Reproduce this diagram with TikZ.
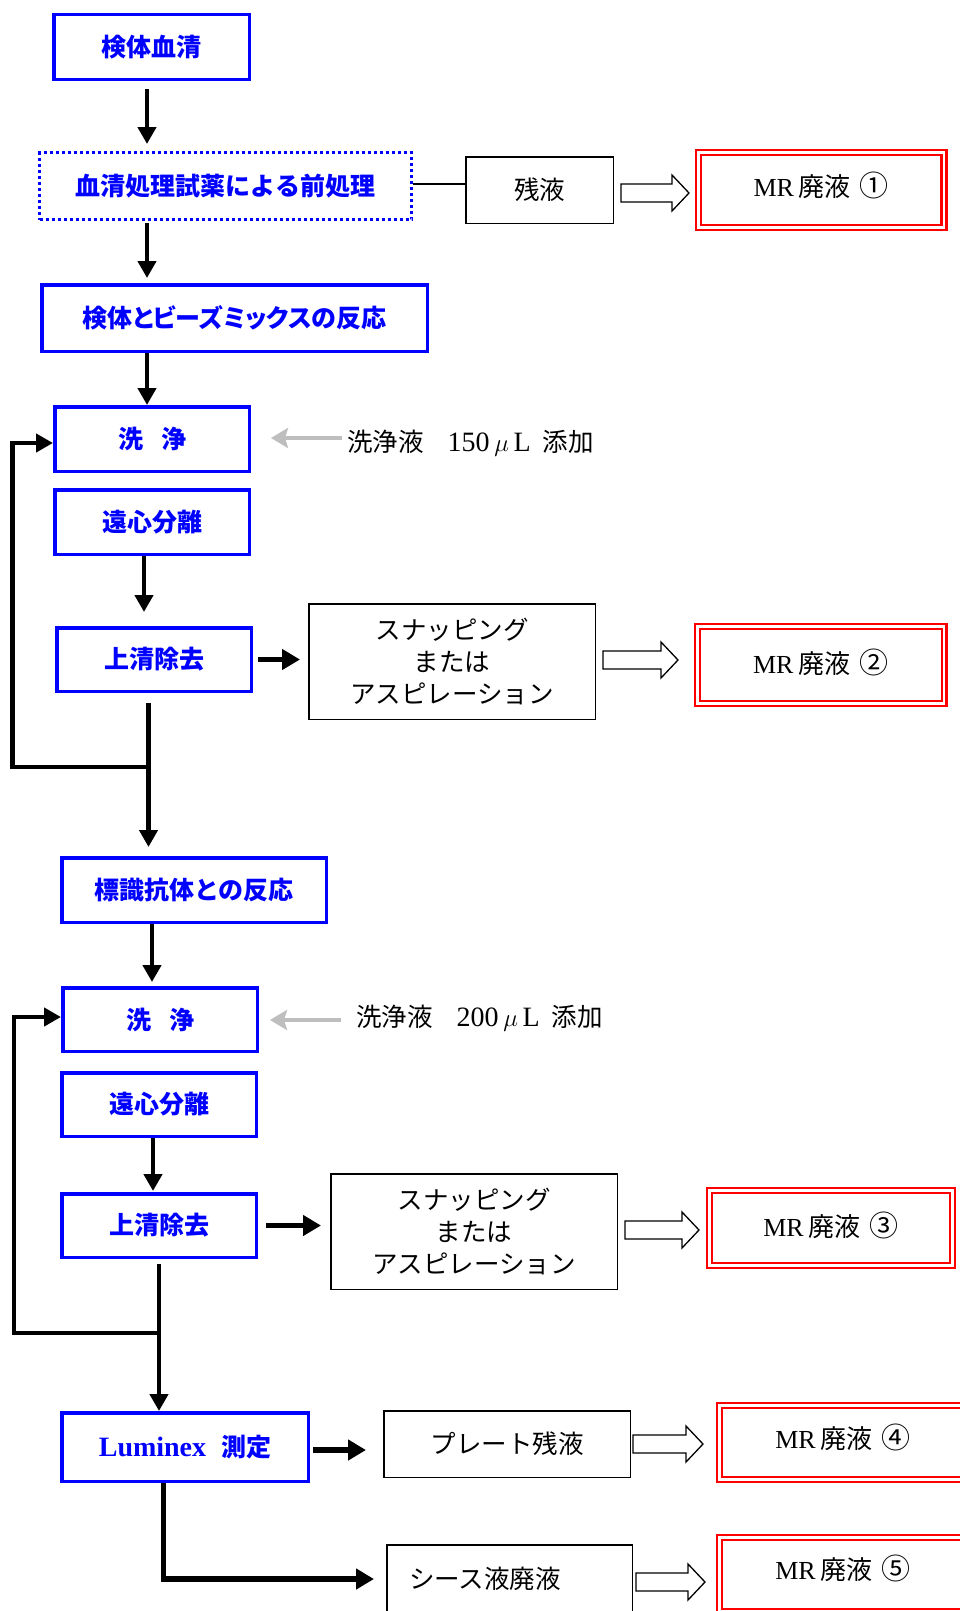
\documentclass[tikz,border=0pt]{standalone}
\usepackage{fontspec}
\newfontfamily\cjk{Noto Sans CJK JP}
\newfontfamily\cjkp[RawFeature=+palt]{Noto Sans CJK JP}
\newfontfamily\lat{Liberation Serif}
\usetikzlibrary{arrows.meta,calc}
\definecolor{lg}{RGB}{190,190,190}
\definecolor{bl}{RGB}{0,0,255}
\definecolor{rd}{RGB}{255,0,0}
\newcommand\hollowarr[3]{%
  \draw[hollow] (#1,#3-9) -- (#2-17,#3-9) -- (#2-17,#3-18) -- (#2,#3) -- (#2-17,#3+18) -- (#2-17,#3+9) -- (#1,#3+9) -- cycle;}
\newcommand\mrlab[1]{{\lat MR}\hspace{5pt}{\cjk 廃液}\hspace{9pt}{\fontsize{29}{30}\selectfont\cjk #1}}
\newcommand\washlab[1]{{\cjk 洗浄液}\hspace{24pt}{\fontsize{28}{30}\selectfont\lat #1\,$\mu$\,L}\hspace{12pt}{\cjk 添加}}
\begin{document}
\begin{tikzpicture}[x=1pt,y=-1pt,
  bbox/.style={draw=bl, line width=3.5pt, inner sep=0pt, text=bl, font=\fontsize{25}{30}\selectfont\cjk\bfseries},
  wbox/.style={draw=black, line width=1.5pt, inner sep=0pt, align=center, font=\fontsize{25.5}{31.7}\selectfont\cjk},
  mrbox/.style={draw=rd, double=white, double distance=2.5pt, line width=2.3pt, inner sep=0pt},
  mrtext/.style={font=\fontsize{26}{30}\selectfont, inner sep=0pt},
  arr/.style={line width=4.5pt, -{Triangle[width=18pt,length=17pt]}},
  harr/.style={line width=5.5pt, -{Triangle[width=20pt,length=18pt]}},
  garr/.style={draw=lg, line width=4pt, -{Stealth[width=20pt,length=17pt,inset=3pt]}},
  hollow/.style={draw=black, fill=white, line width=1.3pt, line join=miter},
  gtext/.style={anchor=west, inner sep=0pt, font=\fontsize{25.5}{30}\selectfont},
]
\useasboundingbox (0,0) rectangle (960,1611);
\clip (0,0) rectangle (960,1611);

% column / row helper coordinates
\coordinate (cA) at (147,0);
\coordinate (cB) at (144,0);
\coordinate (cC) at (148.5,0);
\coordinate (cD) at (152,0);
\coordinate (cE) at (153,0);
\coordinate (cF) at (159,0);
\coordinate (cG) at (163.5,0);
\coordinate (cL1) at (12.6,0);
\coordinate (cL2) at (14,0);
\coordinate (rL1) at (0,767);
\coordinate (rL2) at (0,1333);

% blue process boxes
\node[bbox, minimum width=195.5pt, minimum height=64.5pt] (sample) at (151.5,47) {検体血清};
\node[bbox, line width=3pt, dash pattern=on 3pt off 3pt, minimum width=372pt, minimum height=67pt] (pre) at (225.5,186) {血清処理試薬による前処理};
\node[bbox, minimum width=385.5pt, minimum height=66.5pt] (react1) at (234.5,318) {\cjkp\bfseries 検体とビーズミックスの反応};
\node[bbox, minimum width=194.5pt, minimum height=64.5pt] (wash1) at (152,439) {洗\hspace{18pt}浄};
\node[bbox, minimum width=194.5pt, minimum height=64.5pt] (cent1) at (152,522) {遠心分離};
\node[bbox, minimum width=194.5pt, minimum height=63.5pt] (sup1) at (154,659.5) {上清除去};
\node[bbox, minimum width=264.5pt, minimum height=64.5pt] (label) at (194,890) {標識抗体との反応};
\node[bbox, minimum width=194.5pt, minimum height=63.5pt] (wash2) at (160,1019.5) {洗\hspace{18pt}浄};
\node[bbox, minimum width=194.5pt, minimum height=63.5pt] (cent2) at (159,1104.5) {遠心分離};
\node[bbox, minimum width=194.5pt, minimum height=63.5pt] (sup2) at (159,1225.5) {上清除去};
\node[bbox, minimum width=246.5pt, minimum height=68.5pt] (lumi) at (185,1447) {{\fontsize{28}{30}\selectfont\lat\bfseries Luminex}\hspace{15pt}測定};

% black boxes
\node[wbox, minimum width=147.5pt, minimum height=66.5pt] (res) at (539.5,190) {残液};
\node[wbox, minimum width=286.5pt, minimum height=115.5pt] (snap1) at (452,661.5) {スナッピング\\または\\アスピレーション};
\node[wbox, minimum width=286.5pt, minimum height=115.5pt] (snap2) at (474,1231.5) {スナッピング\\または\\アスピレーション};
\node[wbox, minimum width=246.5pt, minimum height=66.5pt] (plate) at (507,1444) {プレート残液};
\node[wbox, minimum width=245.5pt, minimum height=68.5pt, text width=201pt, align=left] (sheath) at (509.5,1579) {シース液廃液};

% red double boxes
\node[mrbox, minimum width=245.4pt, minimum height=74.9pt,
  label={[mrtext, yshift=5pt]center:{\mrlab{①}}}] (mr1) at (821.25,190) {};
\node[mrbox, minimum width=246.6pt, minimum height=76.9pt,
  label={[mrtext, yshift=3pt]center:{\mrlab{②}}}] (mr2) at (820.85,665) {};
\node[mrbox, minimum width=242.9pt, minimum height=74.9pt,
  label={[mrtext, yshift=3pt]center:{\mrlab{③}}}] (mr3) at (831,1228) {};
\node[mrbox, minimum width=246.9pt, minimum height=73.9pt,
  label={[mrtext, yshift=5.5pt]center:{\mrlab{④}}}] (mr4) at (843,1442.5) {};
\node[mrbox, minimum width=246.9pt, minimum height=73.9pt,
  label={[mrtext, yshift=6.5pt]center:{\mrlab{⑤}}}] (mr5) at (843,1574.5) {};

% wash liquid texts
\node[gtext] (g1) at (347,443) {\washlab{150}};
\node[gtext] (g2) at (356,1018) {\washlab{200}};

% helper points
\coordinate (w1in) at ([yshift=-4pt]wash1.west);
\coordinate (w2in) at ([yshift=2.5pt]wash2.west);
\coordinate (lumiout) at ([yshift=-3pt]lumi.east);
\coordinate (g1out) at ([yshift=5pt]g1.west);
\coordinate (g2out) at ([yshift=-2pt]g2.west);
\coordinate (preout) at ([yshift=2pt]pre.east);

% main vertical flow
\draw[arr, shorten <=8pt, shorten >=7pt] (sample.south -| cA) -- (pre.north -| cA);
\draw[arr, shorten <=2pt, shorten >=5pt] (pre.south -| cA) -- (react1.north -| cA);
\draw[arr] (react1.south -| cA) -- (wash1.north -| cA);
\draw[arr, shorten >=14pt] (cent1.south -| cB) -- (sup1.north -| cB);
\draw[arr, shorten <=10pt, shorten >=9pt] (sup1.south -| cC) -- (label.north -| cC);
\draw[arr, shorten >=4pt] (label.south -| cD) -- (wash2.north -| cD);
\draw[arr, shorten >=1pt] (cent2.south -| cE) -- (sup2.north -| cE);
\draw[arr, shorten <=5pt] (sup2.south -| cF) -- (lumi.north -| cF);

% loops back to washing
\draw[arr, line join=miter] (cC |- rL1) -- (cL1 |- rL1) -- (cL1 |- w1in) -- (w1in);
\draw[arr, line join=miter] (cF |- rL2) -- (cL2 |- rL2) -- (cL2 |- w2in) -- (w2in);

% horizontal arrows
\draw[harr, shorten <=5pt, shorten >=8pt] (sup1.east) -- (sup1.east -| snap1.west);
\draw[harr, shorten <=8pt, shorten >=9pt] (sup2.east) -- (sup2.east -| snap2.west);
\draw[harr, shorten <=3pt, shorten >=17pt] (lumiout) -- (lumiout -| plate.west);
\draw[harr, line join=miter, shorten >=12pt] (lumi.south -| cG) -- (cG |- sheath.west) -- (sheath.west);

% pre-treatment residue line
\draw[line width=1.3pt] (preout) -- (preout -| res.west);

% grey wash-liquid arrows
\draw[garr, shorten <=5pt, shorten >=20pt] (g1out) -- (g1out -| wash1.east);
\draw[garr, shorten <=15pt, shorten >=11pt] (g2out) -- (g2out -| wash2.east);

% hollow block arrows to MR waste
\hollowarr{621}{689}{193}
\hollowarr{603}{678}{660}
\hollowarr{625}{699}{1230}
\hollowarr{633}{703}{1444}
\hollowarr{636}{705}{1582}
\end{tikzpicture}
\end{document}
